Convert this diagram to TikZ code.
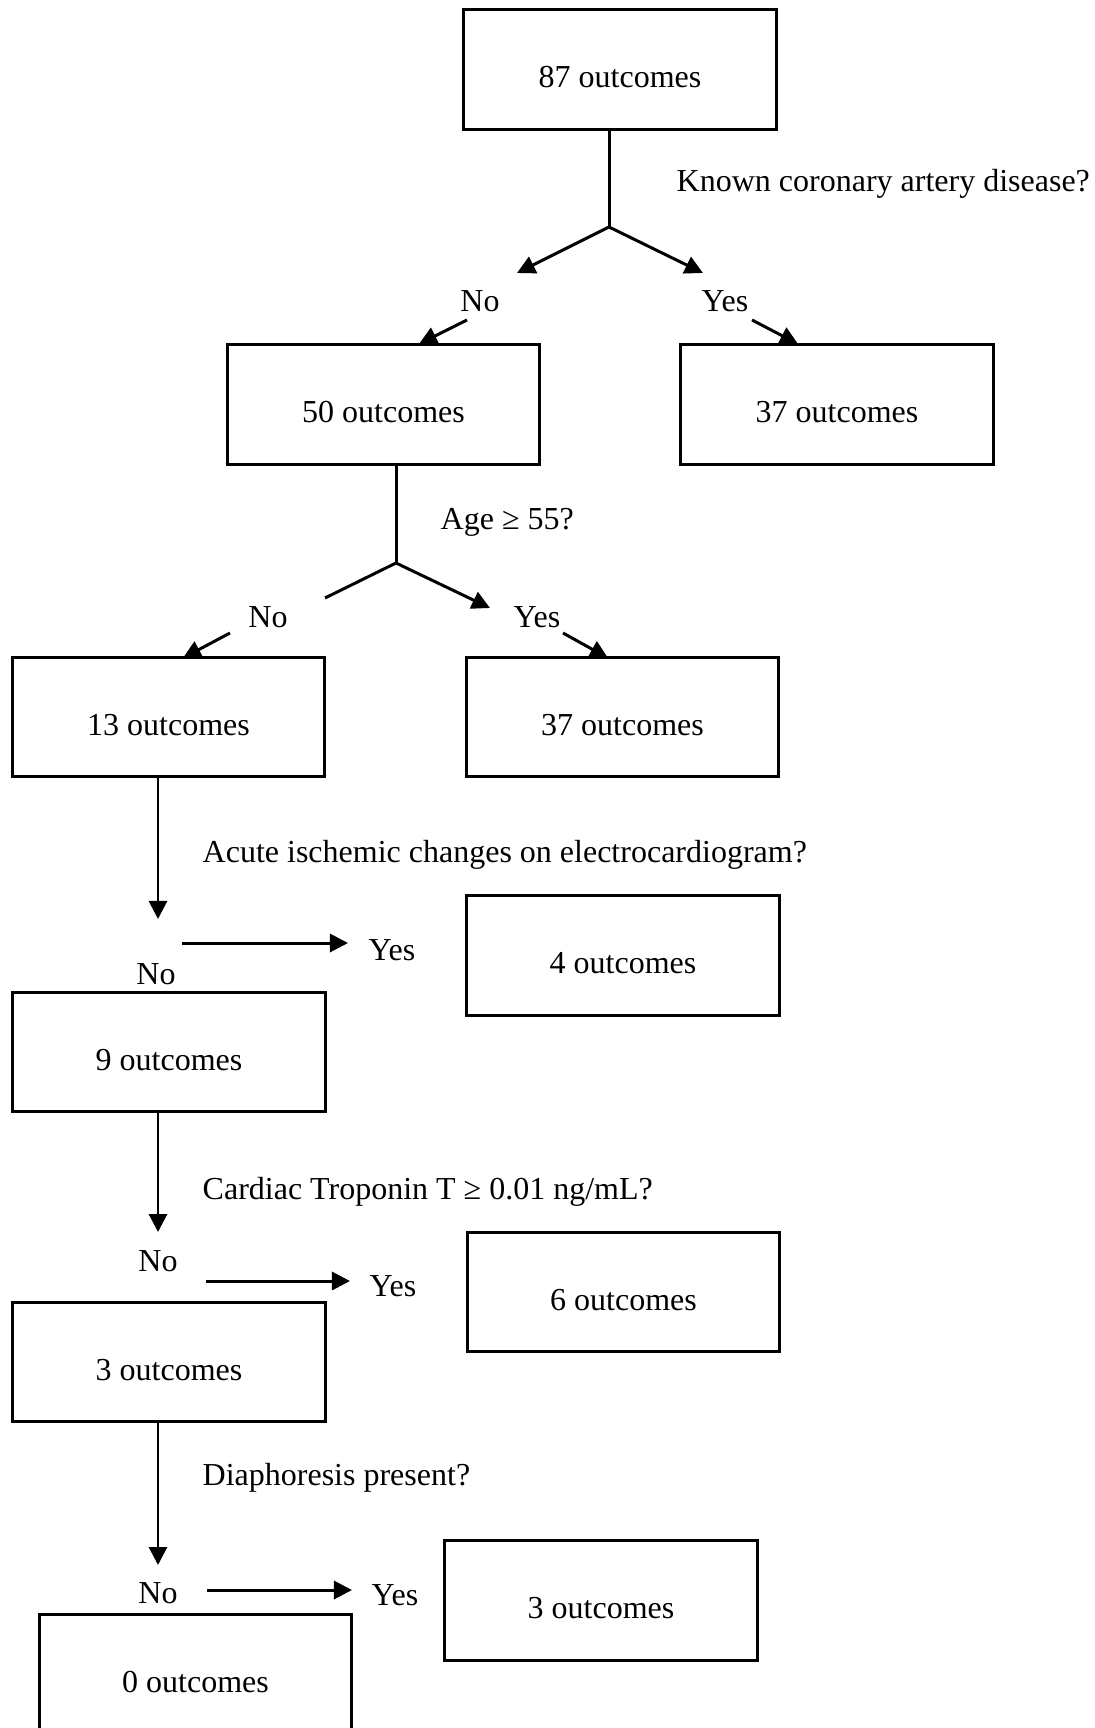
\documentclass[tikz,border=0pt]{standalone}
\usepackage{fontspec}
\setmainfont{Liberation Serif}
\usetikzlibrary{arrows.meta, positioning, calc}
\newcommand{\treefont}{\fontsize{9.1}{11}\selectfont}

\begin{document}
\begin{tikzpicture}[
    x=0.01cm, y=-0.01cm,
    outbox/.style={rectangle, draw=black, line width=0.85pt, minimum width=3.12cm, minimum height=1.19cm, text height=10.5pt, text depth=0pt, align=center, font=\treefont},
    question/.style={anchor=base west, inner sep=0pt, font=\treefont},
    answer/.style={anchor=base, inner sep=0pt, font=\treefont},
    branch/.style={line width=0.85pt},
    arrow/.style={-{Triangle[length=1.8mm, width=1.8mm]}, line width=0.85pt}
]
\useasboundingbox (0,0) rectangle (1095,1728);

% Boxes
\node[outbox] (b87) at (620,69.5) {87 outcomes};
\node[outbox] (b50) at (383.5,404.5) {50 outcomes};
\node[outbox] (b37a) at (837,404.5) {37 outcomes};
\node[outbox] (b13) at (168.5,717) {13 outcomes};
\node[outbox] (b37b) at (622.5,717) {37 outcomes};
\node[outbox] (b4) at (623,955.5) {4 outcomes};
\node[outbox] (b9) at (169,1052) {9 outcomes};
\node[outbox] (b6) at (623.5,1292) {6 outcomes};
\node[outbox] (b3) at (169,1362) {3 outcomes};
\node[outbox] (b3b) at (601,1600.5) {3 outcomes};
\node[outbox, anchor=north] (b0) at (195.5,1613) {0 outcomes};

% Questions
\node[question] (cadQ) at (676,192) {Known coronary artery disease?};
\node[question] (ageQ) at (440,530) {Age ≥ 55?};
\node[question] (ecgQ) at (202,862) {Acute ischemic changes on electrocardiogram?};
\node[question] (tropQ) at (202,1199) {Cardiac Troponin T ≥ 0.01 ng/mL?};
\node[question] (diaQ) at (202,1485) {Diaphoresis present?};

% Answers
\node[answer] (cadNo) at (480,312) {No};
\node[answer] (cadYes) at (725,312) {Yes};
\node[answer] (ageNo) at (268,627) {No};
\node[answer] (ageYes) at (537,627) {Yes};
\node[answer] (ecgYes) at (392,960) {Yes};
\node[answer] (ecgNo) at (156,984) {No};
\node[answer] (tropNo) at (158,1271) {No};
\node[answer] (tropYes) at (393,1296) {Yes};
\node[answer] (diaNo) at (158,1603) {No};
\node[answer] (diaYes) at (395,1605) {Yes};

% Coronary artery disease split
\coordinate (cadSplit) at (609,227);
\coordinate (cadNoTip) at (517,273);
\coordinate (cadYesTip) at (703,273);
\coordinate (cadNoFrom) at (467,320);
\coordinate (cadNoEnd) at (419,344);
\coordinate (cadYesFrom) at (752,320);
\coordinate (cadYesEnd) at (798,344);
\draw[branch] (b87.south -| cadSplit) -- (cadSplit);
\draw[arrow] (cadSplit) -- (cadNoTip);
\draw[arrow] (cadSplit) -- (cadYesTip);
\draw[arrow] (cadNoFrom) -- (cadNoEnd);
\draw[arrow] (cadYesFrom) -- (cadYesEnd);

% Age split
\coordinate (ageSplit) at (396,563);
\coordinate (ageLeft) at (325,598);
\coordinate (ageYesTip) at (490,608);
\coordinate (ageNoFrom) at (230,633);
\coordinate (ageNoEnd) at (183,658);
\coordinate (ageYesFrom) at (563,633);
\coordinate (ageYesEnd) at (608,658);
\draw[branch] (b50.south -| ageSplit) -- (ageSplit);
\draw[branch] (ageSplit) -- (ageLeft);
\draw[arrow] (ageSplit) -- (ageYesTip);
\draw[arrow] (ageNoFrom) -- (ageNoEnd);
\draw[arrow] (ageYesFrom) -- (ageYesEnd);

% Electrocardiogram
\coordinate (ecgTip) at (158,919);
\coordinate (ecgFrom) at (182,943);
\coordinate (ecgEnd) at (348,943);
\draw[arrow] (b13.south -| ecgTip) -- (ecgTip);
\draw[arrow] (ecgFrom) -- (ecgEnd);

% Troponin
\coordinate (tropTip) at (158,1232);
\coordinate (tropFrom) at (206,1281);
\coordinate (tropEnd) at (350,1281);
\draw[arrow] (b9.south -| tropTip) -- (tropTip);
\draw[arrow] (tropFrom) -- (tropEnd);

% Diaphoresis
\coordinate (diaTip) at (158,1565);
\coordinate (diaFrom) at (207,1590);
\coordinate (diaEnd) at (352,1590);
\draw[arrow] (b3.south -| diaTip) -- (diaTip);
\draw[arrow] (diaFrom) -- (diaEnd);

\end{tikzpicture}
\end{document}
